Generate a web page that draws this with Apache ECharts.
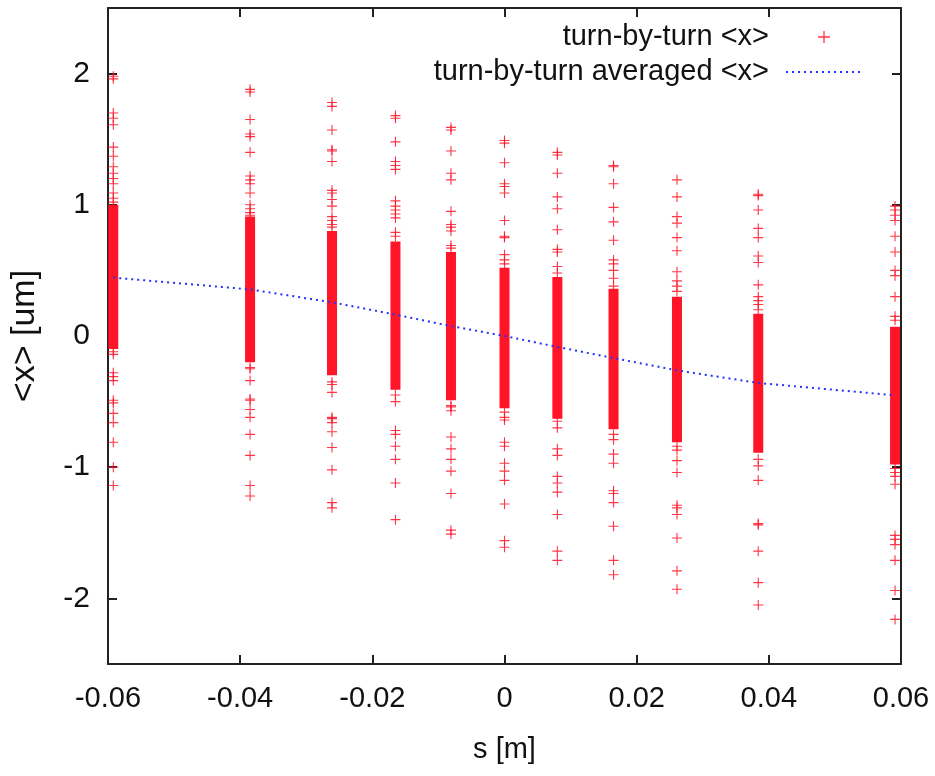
<!DOCTYPE html>
<html>
<head>
<meta charset="utf-8">
<title>turn-by-turn x</title>
<script src="https://cdn.jsdelivr.net/npm/echarts@6/dist/echarts.min.js"></script>
<style>
  html, body { margin: 0; padding: 0; background: #fff; }
  #chart { width: 935px; height: 776px; }
</style>
</head>
<body>
<div id="chart"></div>
<script>
// BPM positions along s [m]
const sPos = [-0.0592, -0.0385, -0.0261, -0.0165, -0.0081, 0, 0.0080, 0.0165, 0.0261, 0.0384, 0.0591];
// dense part of the turn-by-turn cloud at each position (solid red column)
const bandLow = [-0.10, -0.20, -0.30, -0.41, -0.49, -0.55, -0.63, -0.71, -0.81, -0.89, -0.98];
const bandHigh = [1.00, 0.91, 0.80, 0.72, 0.64, 0.52, 0.45, 0.36, 0.30, 0.17, 0.07];
// single turns that stick out above / below the column
const upperTurns = [
  [1.98, 1.96, 1.70, 1.66, 1.61, 1.44, 1.37, 1.29, 1.24, 1.20, 1.16, 1.09, 1.05, 1.02],
  [1.88, 1.86, 1.65, 1.54, 1.52, 1.40, 1.22, 1.19, 1.16, 1.09, 1.00, 0.97, 0.94, 0.92],
  [1.78, 1.75, 1.57, 1.42, 1.41, 1.33, 1.11, 1.09, 1.04, 0.99, 0.91, 0.88, 0.85, 0.83],
  [1.68, 1.66, 1.48, 1.33, 1.30, 1.27, 1.03, 0.99, 0.96, 0.93, 0.90, 0.79, 0.76],
  [1.59, 1.57, 1.41, 1.24, 1.19, 0.95, 0.85, 0.83, 0.80, 0.69, 0.67],
  [1.49, 1.47, 1.32, 1.16, 1.14, 1.09, 0.88, 0.76, 0.75, 0.62, 0.58, 0.55],
  [1.40, 1.38, 1.24, 1.06, 0.97, 0.81, 0.66, 0.64, 0.53, 0.48],
  [1.30, 1.29, 1.16, 0.98, 0.87, 0.73, 0.58, 0.55, 0.50, 0.44, 0.38],
  [1.19, 1.06, 0.91, 0.86, 0.75, 0.65, 0.49, 0.42, 0.38, 0.34],
  [1.08, 1.07, 0.96, 0.82, 0.75, 0.61, 0.56, 0.39, 0.30, 0.27, 0.24, 0.20],
  [0.99, 0.96, 0.92, 0.88, 0.76, 0.64, 0.50, 0.46, 0.30, 0.15, 0.12]
];
const lowerTurns = [
  [-0.12, -0.14, -0.28, -0.31, -0.34, -0.49, -0.51, -0.59, -0.66, -0.81, -1.00, -1.14],
  [-0.24, -0.25, -0.34, -0.48, -0.49, -0.56, -0.62, -0.75, -0.91, -1.14, -1.22],
  [-0.35, -0.37, -0.43, -0.62, -0.63, -0.66, -0.73, -0.85, -1.02, -1.27, -1.31],
  [-0.45, -0.50, -0.72, -0.75, -0.84, -0.94, -1.12, -1.40],
  [-0.53, -0.54, -0.57, -0.77, -0.86, -0.94, -1.03, -1.20, -1.48, -1.51],
  [-0.58, -0.62, -0.64, -0.81, -0.84, -0.97, -1.03, -1.10, -1.28, -1.56, -1.61],
  [-0.65, -0.70, -0.86, -0.91, -1.07, -1.12, -1.19, -1.36, -1.64, -1.71],
  [-0.75, -0.79, -0.90, -0.97, -1.18, -1.20, -1.27, -1.45, -1.71, -1.82],
  [-0.84, -0.87, -0.95, -1.04, -1.29, -1.31, -1.36, -1.54, -1.79, -1.93],
  [-0.94, -0.99, -1.10, -1.43, -1.44, -1.64, -1.88, -2.05],
  [-1.01, -1.04, -1.07, -1.13, -1.52, -1.55, -1.59, -1.71, -1.94, -2.16]
];
// averaged <x> over all turns
const averaged = [0.445, 0.355, 0.257, 0.163, 0.076, 0, -0.083, -0.168, -0.262, -0.358, -0.452];
// tick labels
const xTicks = [-0.06, -0.04, -0.02, 0, 0.02, 0.04, 0.06];
const yTicks = [-2, -1, 0, 1, 2];

const FONT = '"Liberation Sans", Arial, sans-serif';
const RED = '#ff1428';
const BLUE = '#2233ff';
const PLUS = 'path://M4,0h1v4h4v1h-4v4h-1v-4h-4v-1h4z';

const chart = echarts.init(document.getElementById('chart'));

// build scatter points and column ranges from the arrays
const turnPoints = [];
sPos.forEach((s, i) => {
  upperTurns[i].forEach(v => turnPoints.push([s, v]));
  lowerTurns[i].forEach(v => turnPoints.push([s, v]));
});
const bandData = sPos.map((s, i) => [s, bandLow[i], bandHigh[i]]);
const lineData = sPos.map((s, i) => [s, averaged[i]]);

const frameLine = { show: true, onZero: false, lineStyle: { color: '#222', width: 2 } };
const frameTick = (vals) => ({ inside: true, length: 9, customValues: vals, lineStyle: { color: '#222', width: 2 } });

const option = {
  animation: false,
  backgroundColor: '#fff',
  grid: { left: 108, right: 34, top: 8, bottom: 112, containLabel: false },
  legend: {
    orient: 'vertical',
    align: 'right',
    right: 67,
    top: 15,
    itemWidth: 76,
    itemHeight: 12,
    itemGap: 1,
    data: [
      { name: 'turn-by-turn <x>' },
      // only the dotted line as key, no dot in the middle
      { name: 'turn-by-turn averaged <x>', itemStyle: { opacity: 0 } }
    ],
    textStyle: { fontFamily: FONT, fontSize: 29, lineHeight: 34, color: '#111', padding: [0, 12, 0, 0] }
  },
  xAxis: [
    {
      type: 'value', min: -0.06, max: 0.06, position: 'bottom',
      name: 's [m]', nameLocation: 'middle', nameGap: 71,
      nameTextStyle: { fontFamily: FONT, fontSize: 29, color: '#111' },
      axisLine: frameLine,
      axisTick: frameTick(xTicks),
      axisLabel: { customValues: xTicks, margin: 20, fontFamily: FONT, fontSize: 29, color: '#111',
        formatter: v => String(v) },
      splitLine: { show: false }
    },
    {
      type: 'value', min: -0.06, max: 0.06, position: 'top',
      axisLine: frameLine,
      axisTick: frameTick(xTicks),
      axisLabel: { show: false },
      splitLine: { show: false }
    }
  ],
  yAxis: [
    {
      type: 'value', min: -2.5, max: 2.5, position: 'left',
      name: '<x> [um]', nameLocation: 'middle', nameGap: 66, nameRotate: 90,
      nameTextStyle: { fontFamily: FONT, fontSize: 34, color: '#111' },
      axisLine: frameLine,
      axisTick: frameTick(yTicks),
      axisLabel: { customValues: yTicks, margin: 18, fontFamily: FONT, fontSize: 30, color: '#111' },
      splitLine: { show: false }
    },
    {
      type: 'value', min: -2.5, max: 2.5, position: 'right',
      axisLine: frameLine,
      axisTick: frameTick(yTicks),
      axisLabel: { show: false },
      splitLine: { show: false }
    }
  ],
  series: [
    {
      name: 'turn-by-turn <x>',
      type: 'scatter',
      symbol: PLUS,
      symbolSize: 10,
      itemStyle: { color: RED, opacity: 0.85 },
      data: turnPoints,
      z: 3
    },
    {
      name: 'dense turns',
      type: 'custom',
      data: bandData,
      encode: { x: 0, y: [1, 2] },
      renderItem: (params, api) => {
        const x = api.coord([api.value(0), 0])[0];
        const yTop = api.coord([0, api.value(2)])[1];
        const yBot = api.coord([0, api.value(1)])[1];
        return {
          type: 'rect',
          shape: { x: x - 5, y: yTop, width: 10, height: yBot - yTop },
          style: { fill: RED }
        };
      },
      z: 3
    },
    {
      name: 'turn-by-turn averaged <x>',
      type: 'line',
      data: lineData,
      symbol: 'none',
      itemStyle: { color: BLUE },
      lineStyle: { color: BLUE, width: 2, type: [2, 4] },
      z: 5
    }
  ]
};

chart.setOption(option);
</script>
</body>
</html>
